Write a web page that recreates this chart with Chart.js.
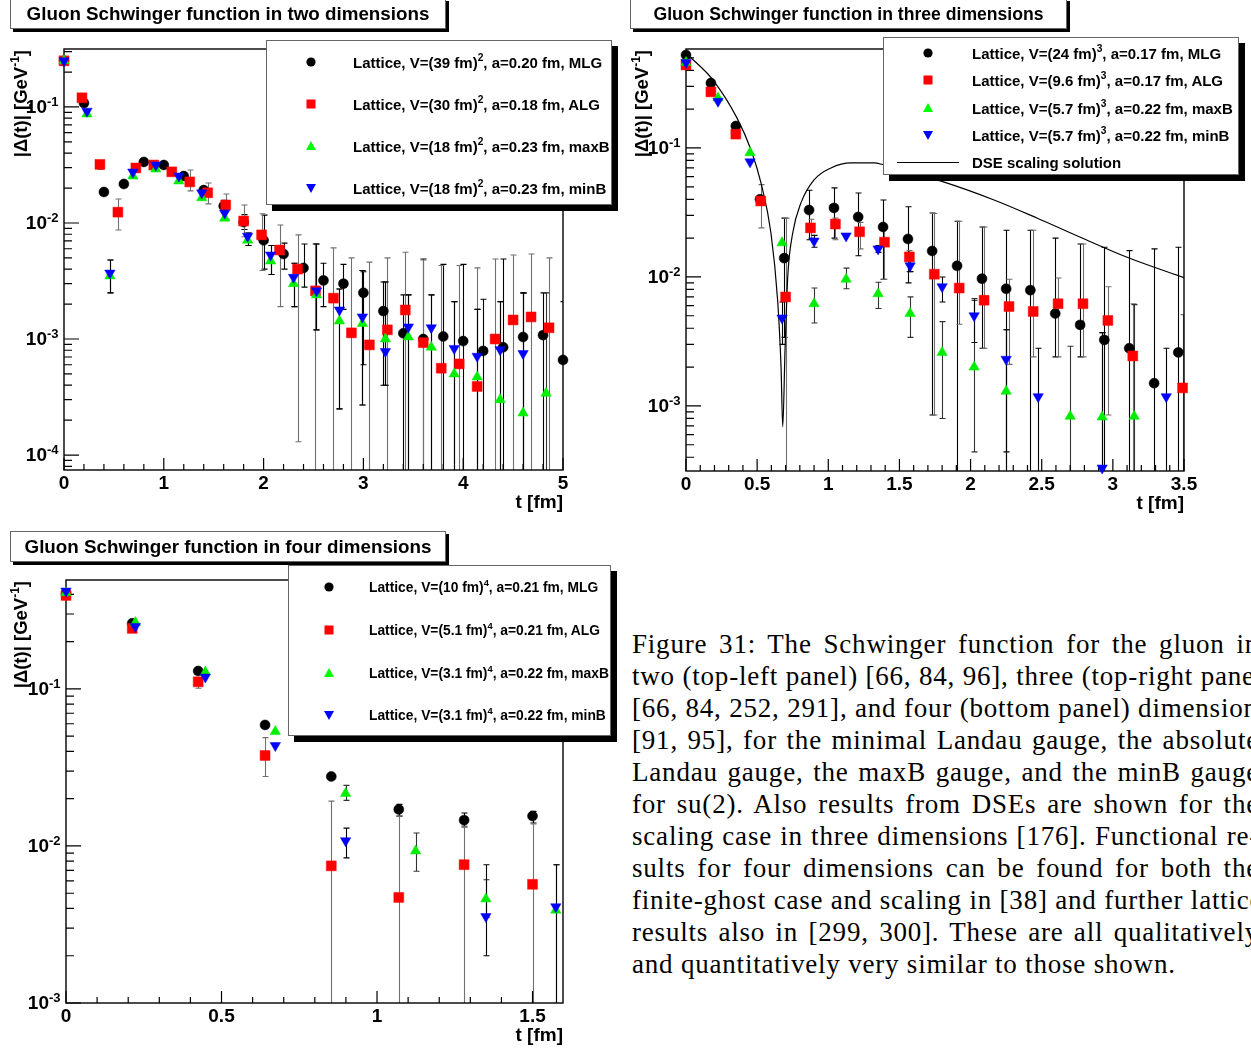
<!DOCTYPE html>
<html>
<head>
<meta charset="utf-8">
<script src="https://cdn.jsdelivr.net/npm/chart.js@4.4.1/dist/chart.umd.min.js"></script>
<style>
  html, body { margin: 0; padding: 0; background: #fff; }
  body { position: relative; width: 1251px; height: 1050px; overflow: hidden; }
  canvas { position: absolute; }
  .title { position: absolute; background: #fff; border: 1px solid #666; box-shadow: 3px 3px 0 #000;
           box-sizing: border-box; font-family: "Liberation Sans", Arial, sans-serif; font-weight: bold;
           text-align: center; white-space: nowrap; color: #000; }
  .legend { position: absolute; background: #fff; border: 1px solid #666; box-shadow: 6px 6px 0 #000; box-sizing: border-box; }
  .lg { position: absolute; font-family: "Liberation Sans", Arial, sans-serif; font-weight: bold; white-space: nowrap;
        transform: translateY(-50%); color: #000; }
  .lg sup { font-size: 68%; vertical-align: 0.6em; line-height: 0; }
  .mk { position: absolute; width: 14px; height: 14px; }
  .dse { position: absolute; height: 0; border-top: 1px solid #000; }
  #caption { position: absolute; left: 632px; top: 628px; width: 627px;
             font-family: "Liberation Serif", "Times New Roman", serif; font-size: 27px; line-height: 32px;
             letter-spacing: 0.8px; color: #000; }
  #caption div { text-align: justify; text-align-last: justify; height: 32px; white-space: nowrap; }
  #caption div.last { text-align: left; text-align-last: left; }
</style>
</head>
<body>

<canvas id="c2d" width="620" height="525" style="left:0;top:0"></canvas>
<canvas id="c3d" width="631" height="525" style="left:620px;top:0"></canvas>
<canvas id="c4d" width="620" height="525" style="left:0;top:525px"></canvas>

<div class="title" style="left:10px;top:-2px;width:436px;height:31px;line-height:30px;font-size:18.8px">Gluon Schwinger function in two dimensions</div>
<div class="title" style="left:630px;top:-2px;width:437px;height:31px;line-height:31px;font-size:17.6px">Gluon Schwinger function in three dimensions</div>
<div class="title" style="left:10px;top:531px;width:436px;height:31px;line-height:29px;font-size:18.8px">Gluon Schwinger function in four dimensions</div>

<!-- legend, two dimensions -->
<div class="legend" style="left:266px;top:40px;width:346px;height:165px">
  <svg class="mk" style="left:37px;top:14px"><circle cx="7" cy="7" r="4.6" fill="#000"/></svg>
  <svg class="mk" style="left:37px;top:56px"><rect x="2.5" y="2.5" width="9" height="9" fill="#f00"/></svg>
  <svg class="mk" style="left:37px;top:98px"><polygon points="7,2 12,11 2,11" fill="#0f0"/></svg>
  <svg class="mk" style="left:37px;top:140px"><polygon points="2,3 12,3 7,12" fill="#00f"/></svg>
  <div class="lg" style="left:86px;top:21px;font-size:15px">Lattice, V=(39 fm)<sup>2</sup>, a=0.20 fm, MLG</div>
  <div class="lg" style="left:86px;top:63px;font-size:15px">Lattice, V=(30 fm)<sup>2</sup>, a=0.18 fm, ALG</div>
  <div class="lg" style="left:86px;top:105px;font-size:15px">Lattice, V=(18 fm)<sup>2</sup>, a=0.23 fm, maxB</div>
  <div class="lg" style="left:86px;top:147px;font-size:15px">Lattice, V=(18 fm)<sup>2</sup>, a=0.23 fm, minB</div>
</div>

<!-- legend, three dimensions -->
<div class="legend" style="left:883px;top:37px;width:356px;height:138px">
  <svg class="mk" style="left:37px;top:8px"><circle cx="7" cy="7" r="4.6" fill="#000"/></svg>
  <svg class="mk" style="left:37px;top:35px"><rect x="2.5" y="2.5" width="9" height="9" fill="#f00"/></svg>
  <svg class="mk" style="left:37px;top:63px"><polygon points="7,2 12,11 2,11" fill="#0f0"/></svg>
  <svg class="mk" style="left:37px;top:90px"><polygon points="2,3 12,3 7,12" fill="#00f"/></svg>
  <div class="dse" style="left:13px;top:124px;width:62px"></div>
  <div class="lg" style="left:88px;top:15px;font-size:15px">Lattice, V=(24 fm)<sup>3</sup>, a=0.17 fm, MLG</div>
  <div class="lg" style="left:88px;top:42px;font-size:15px">Lattice, V=(9.6 fm)<sup>3</sup>, a=0.17 fm, ALG</div>
  <div class="lg" style="left:88px;top:70px;font-size:15px">Lattice, V=(5.7 fm)<sup>3</sup>, a=0.22 fm, maxB</div>
  <div class="lg" style="left:88px;top:97px;font-size:15px">Lattice, V=(5.7 fm)<sup>3</sup>, a=0.22 fm, minB</div>
  <div class="lg" style="left:88px;top:124px;font-size:15px">DSE scaling solution</div>
</div>

<!-- legend, four dimensions -->
<div class="legend" style="left:288px;top:565px;width:323px;height:171px">
  <svg class="mk" style="left:33px;top:14px"><circle cx="7" cy="7" r="4.6" fill="#000"/></svg>
  <svg class="mk" style="left:33px;top:57px"><rect x="2.5" y="2.5" width="9" height="9" fill="#f00"/></svg>
  <svg class="mk" style="left:33px;top:100px"><polygon points="7,2 12,11 2,11" fill="#0f0"/></svg>
  <svg class="mk" style="left:33px;top:142px"><polygon points="2,3 12,3 7,12" fill="#00f"/></svg>
  <div class="lg" style="left:80px;top:21px;font-size:13.8px">Lattice, V=(10 fm)<sup>4</sup>, a=0.21 fm, MLG</div>
  <div class="lg" style="left:80px;top:64px;font-size:13.8px">Lattice, V=(5.1 fm)<sup>4</sup>, a=0.21 fm, ALG</div>
  <div class="lg" style="left:80px;top:107px;font-size:13.8px">Lattice, V=(3.1 fm)<sup>4</sup>, a=0.22 fm, maxB</div>
  <div class="lg" style="left:80px;top:149px;font-size:13.8px">Lattice, V=(3.1 fm)<sup>4</sup>, a=0.22 fm, minB</div>
</div>

<div id="caption">
  <div>Figure 31: The Schwinger function for the gluon in</div>
  <div>two (top-left panel) [66, 84, 96], three (top-right panel)</div>
  <div>[66, 84, 252, 291], and four (bottom panel) dimensions</div>
  <div>[91, 95], for the minimal Landau gauge, the absolute</div>
  <div>Landau gauge, the maxB gauge, and the minB gauge</div>
  <div>for su(2). Also results from DSEs are shown for the</div>
  <div>scaling case in three dimensions [176]. Functional re-</div>
  <div>sults for four dimensions can be found for both the</div>
  <div>finite-ghost case and scaling in [38] and further lattice</div>
  <div>results also in [299, 300]. These are all qualitatively</div>
  <div class="last">and quantitatively very similar to those shown.</div>
</div>

<script>
// error bar that runs off the bottom of the frame
const F = 1e-6;

// ---- two dimensions ----
const t2MLG = [0, 0.2, 0.4, 0.6, 0.8, 1.0, 1.2, 1.4, 1.6, 1.8, 2.0, 2.2, 2.4, 2.6, 2.8, 3.0, 3.2, 3.4, 3.6, 3.8, 4.0, 4.2, 4.4, 4.6, 4.8, 5.0];
const v2MLG = [0.25, 0.108, 0.0185, 0.0217, 0.0336, 0.0316, 0.0254, 0.0192, 0.014, 0.0102, 0.0071, 0.0054, 0.0041, 0.0032, 0.0030, 0.0025, 0.00174, 0.00112, 0.0010, 0.00105, 0.00096, 0.00079, 0.00085, 0.00104, 0.00108, 0.00066];
const lo2MLG = [null, null, null, null, null, null, null, null, 0.0125, 0.0088, 0.004, 0.004, 0.0028, 0.0019, 0.0018, 0.0006, 0.0004, F, F, F, F, F, F, F, F, F];
const hi2MLG = [null, null, null, null, null, null, null, null, 0.0157, 0.0118, 0.0117, 0.0067, 0.0066, 0.0045, 0.0044, 0.0038, 0.0031, 0.0024, 0.0049, 0.0044, 0.0044, 0.0022, 0.0049, 0.0025, 0.0025, 0.0021];

const t2ALG = [0, 0.18, 0.36, 0.54, 0.72, 0.90, 1.08, 1.26, 1.44, 1.62, 1.80, 1.98, 2.16, 2.34, 2.52, 2.70, 2.88, 3.06, 3.24, 3.42, 3.60, 3.78, 3.96, 4.14, 4.32, 4.50, 4.68, 4.86];
const v2ALG = [0.25, 0.12, 0.032, 0.0124, 0.0298, 0.0316, 0.0276, 0.0226, 0.0182, 0.0143, 0.0104, 0.0079, 0.00585, 0.0040, 0.0026, 0.00225, 0.00113, 0.00089, 0.0012, 0.00178, 0.00093, 0.00056, 0.00061, 0.00039, 0.0010, 0.00146, 0.00155, 0.00125];
const lo2ALG = [null, null, 0.029, 0.0087, null, null, null, 0.0189, 0.0146, 0.0108, 0.0076, 0.0039, 0.0019, 0.00013, F, F, F, F, F, F, F, F, F, F, F, F, F, F];
const hi2ALG = [null, null, 0.0345, 0.0161, null, null, null, 0.0286, 0.0221, 0.0178, 0.0143, 0.0120, 0.0096, 0.0079, 0.0066, 0.0061, 0.0050, 0.0046, 0.0050, 0.0056, 0.0048, 0.0043, 0.0043, 0.0041, 0.0049, 0.0053, 0.0054, 0.0050];

const t2B = [0, 0.23, 0.46, 0.69, 0.92, 1.15, 1.38, 1.61, 1.84, 2.07, 2.30, 2.53, 2.76, 2.99, 3.22, 3.45, 3.68, 3.91, 4.14, 4.37, 4.60, 4.83];
const v2MaxB = [0.25, 0.087, 0.0035, 0.0254, 0.0292, 0.023, 0.0165, 0.011, 0.0071, 0.0047, 0.0030, 0.0024, 0.00143, 0.00136, 0.0010, 0.00104, 0.00085, 0.0005, 0.00047, 0.0003, 0.00023, 0.00034];
const v2MinB = [0.25, 0.092, 0.0037, 0.0275, 0.0316, 0.0254, 0.0182, 0.0122, 0.0077, 0.0053, 0.0034, 0.0026, 0.00178, 0.00155, 0.00078, 0.00127, 0.00125, 0.00083, 0.00071, 0.00081, 0.00075, null];
const lo2B = [null, null, 0.0025, null, null, null, null, null, 0.0064, 0.0036, 0.0019, 0.0012, 0.00025, 0.00027, 0.0004, F, F, F, F, F, F, F];
const hi2B = [null, null, 0.0048, null, null, null, null, null, 0.0082, 0.0064, 0.0045, 0.0066, 0.0027, 0.0039, 0.0031, 0.0024, 0.0024, 0.0021, 0.0018, 0.0021, 0.0025, 0.0025];

// ---- three dimensions ----
const t3MLG = [0, 0.175, 0.35, 0.52, 0.69, 0.865, 1.04, 1.21, 1.385, 1.56, 1.73, 1.905, 2.08, 2.25, 2.42, 2.595, 2.77, 2.94, 3.115, 3.29, 3.46];
const v3MLG = [0.526, 0.319, 0.148, 0.040, 0.014, 0.033, 0.0343, 0.0292, 0.0244, 0.0197, 0.0159, 0.0122, 0.0097, 0.0081, 0.0079, 0.0052, 0.00425, 0.00325, 0.0028, 0.0015, 0.0026];
const lo3MLG = [null, null, null, null, 0.0034, 0.0194, 0.020, 0.0146, 0.0096, 0.009, 0.00085, F, 0.0028, 0.00044, F, 0.0024, 0.0024, F, F, F, F];
const hi3MLG = [null, null, null, null, 0.0286, 0.047, 0.049, 0.0448, 0.0395, 0.035, 0.0313, 0.027, 0.0244, 0.023, 0.023, 0.020, 0.018, 0.017, 0.016, 0.0165, 0.017];

const t3ALG = [0, 0.175, 0.35, 0.525, 0.70, 0.875, 1.05, 1.22, 1.395, 1.57, 1.745, 1.92, 2.095, 2.27, 2.44, 2.615, 2.79, 2.965, 3.14, 3.49];
const v3ALG = [0.44, 0.272, 0.128, 0.0388, 0.007, 0.024, 0.0257, 0.0224, 0.0186, 0.0143, 0.0105, 0.0082, 0.0066, 0.0059, 0.0054, 0.0062, 0.0062, 0.0046, 0.00244, 0.00138];
const lo3ALG = [null, null, null, 0.024, F, 0.020, 0.0194, 0.0165, 0.0096, 0.011, 0.00085, 0.0043, 0.0028, 0.0021, 0.0024, 0.0024, 0.0024, 0.00085, F, F];
const hi3ALG = [null, null, null, 0.052, 0.0286, 0.028, 0.0286, 0.0265, 0.0244, 0.016, 0.031, 0.027, 0.0244, 0.0096, 0.023, 0.0098, 0.018, 0.0084, 0.0062, 0.0051];

const t3MaxB = [0, 0.225, 0.45, 0.675, 0.90, 1.125, 1.35, 1.575, 1.80, 2.025, 2.25, 2.70, 2.925, 3.15];
const v3MaxB = [0.46, 0.244, 0.092, 0.0184, 0.0062, 0.0096, 0.0074, 0.0052, 0.0026, 0.002, 0.0013, 0.00083, 0.00082, 0.00083];
const lo3MaxB = [null, null, null, null, 0.0044, 0.0081, 0.0057, 0.0034, 0.0008, 0.00044, F, F, F, F];
const hi3MaxB = [null, null, null, null, 0.0082, 0.0117, 0.0091, 0.007, 0.0045, 0.0068, 0.0039, 0.0029, 0.0037, 0.0061];

const t3MinB = [0, 0.225, 0.45, 0.675, 0.90, 1.125, 1.35, 1.575, 1.80, 2.025, 2.25, 2.475, 2.925, 3.375];
const v3MinB = [0.46, 0.23, 0.078, 0.0048, 0.019, 0.0208, 0.0165, 0.0122, 0.0084, 0.005, 0.0023, 0.00118, 0.00033, 0.00118];
const lo3MinB = [null, null, null, 0.003, 0.017, null, 0.0155, 0.011, 0.0064, 0.0031, F, F, F, F];
const hi3MinB = [null, null, null, 0.0064, 0.021, null, 0.0175, 0.0135, 0.01, 0.0066, 0.0039, 0.0028, 0.0037, 0.0028];

// DSE scaling solution
const tDSE = [0.014, 0.19, 0.358, 0.457, 0.527, 0.597, 0.644, 0.668, 0.68, 0.696, 0.715, 0.75, 0.808, 0.9, 1.019, 1.16, 1.32, 1.39, 1.804, 2.165, 2.47, 2.776, 3.1, 3.507];
const vDSE = [0.526, 0.336, 0.171, 0.0965, 0.0536, 0.0219, 0.0066, 0.002, 0.00069, 0.0027, 0.01, 0.0219, 0.0375, 0.0565, 0.07, 0.0766, 0.0766, 0.074, 0.0548, 0.0395, 0.0285, 0.0202, 0.0142, 0.0098];

// ---- four dimensions ----
const t4A = [0, 0.213, 0.425, 0.64, 0.853, 1.07, 1.28, 1.50];
const v4MLG = [0.405, 0.262, 0.13, 0.059, 0.0277, 0.0171, 0.0146, 0.0155];
const lo4MLG = [null, null, null, null, null, 0.0155, 0.0132, 0.0140];
const hi4MLG = [null, null, null, null, null, 0.0184, 0.0162, 0.0166];
const v4ALG = [0.394, 0.243, 0.111, 0.0377, 0.00747, 0.0047, 0.0076, 0.0057];
const lo4ALG = [null, null, 0.101, 0.0277, F, F, F, F];
const hi4ALG = [null, null, 0.114, 0.049, 0.0193, 0.0155, 0.0134, 0.0138];

const t4B = [0, 0.223, 0.448, 0.673, 0.899, 1.124, 1.35, 1.575];
const v4MaxB = [0.41, 0.265, 0.128, 0.0535, 0.0216, 0.0093, 0.0046, 0.0039];
const lo4MaxB = [null, null, null, null, 0.0195, 0.0069, 0.0035, F];
const hi4MaxB = [null, null, null, null, 0.0243, 0.0121, 0.0061, 0.0076];
const v4MinB = [0.42, 0.25, 0.119, 0.0436, 0.0108, null, 0.00355, 0.0041];
const lo4MinB = [null, null, null, null, 0.0084, null, 0.0020, F];
const hi4MinB = [null, null, null, null, 0.013, null, 0.0076, 0.0076];

// marker look per gauge (ROOT style)
const STYLE = {
  MLG:  { shape: 'circle',   rot: 0,   r: 5, color: '#000000', err: '#000000', order: 3 },
  ALG:  { shape: 'rect',     rot: 0,   r: 7, color: '#ff0000', err: '#707070', order: 2 },
  maxB: { shape: 'triangle', rot: 0,   r: 6, color: '#00ee00', err: '#333333', order: 1 },
  minB: { shape: 'triangle', rot: 180, r: 6, color: '#0000ff', err: '#000000', order: 0 }
};

const FONT = '"Liberation Sans", Arial, sans-serif';

function marks(kind, t, v, lo, hi) {
  const s = STYLE[kind];
  return {
    label: kind,
    data: t.map((tt, i) => ({ x: tt, y: v[i] })),
    errLo: lo, errHi: hi, errColor: s.err,
    pointStyle: s.shape, pointRotation: s.rot, pointRadius: s.r,
    pointBackgroundColor: s.color, pointBorderColor: s.color, pointBorderWidth: 0.5,
    showLine: false, clip: false, order: s.order
  };
}

// frame, inward ticks, error bars and labels drawn the ROOT way
const rootAxes = {
  id: 'rootAxes',
  beforeDatasetsDraw(chart, args, o) {
    const { ctx, chartArea: a } = chart;
    const x = chart.scales.x, y = chart.scales.y;

    // error bars, clipped to the frame
    ctx.save();
    ctx.beginPath();
    ctx.rect(a.left, a.top, a.right - a.left, a.bottom - a.top);
    ctx.clip();
    ctx.lineWidth = 1.1;
    chart.data.datasets.forEach(ds => {
      if (!ds.errLo) return;
      ctx.strokeStyle = ds.errColor;
      ds.data.forEach((p, i) => {
        const lo = ds.errLo[i], hi = ds.errHi[i];
        if (p.y == null || lo == null || hi == null) return;
        const px = Math.round(x.getPixelForValue(p.x)) + 0.5;
        const yl = y.getPixelForValue(lo), yh = y.getPixelForValue(hi);
        ctx.beginPath();
        ctx.moveTo(px, yl); ctx.lineTo(px, yh);
        ctx.moveTo(px - 3, yh); ctx.lineTo(px + 3, yh);
        ctx.moveTo(px - 3, yl); ctx.lineTo(px + 3, yl);
        ctx.stroke();
      });
    });
    ctx.restore();

    // frame
    ctx.save();
    ctx.strokeStyle = '#000';
    ctx.lineWidth = 1.4;
    ctx.strokeRect(a.left, a.top, a.right - a.left, a.bottom - a.top);

    // ticks pointing into the frame
    ctx.lineWidth = 1.2;
    ctx.beginPath();
    const nMinor = Math.round(x.max / o.xMinor);
    for (let k = 0; k <= nMinor; k++) {
      const v = k * o.xMinor;
      if (v > x.max + 1e-9) break;
      const major = Math.abs(v / o.xMajor - Math.round(v / o.xMajor)) < 1e-6;
      const px = x.getPixelForValue(v);
      ctx.moveTo(px, a.bottom);
      ctx.lineTo(px, a.bottom - (major ? 12 : 6));
    }
    o.yDecades.forEach(d => {
      for (let m = 1; m <= 9; m++) {
        const v = m * Math.pow(10, d);
        if (v < y.min || v > y.max) continue;
        const py = y.getPixelForValue(v);
        ctx.moveTo(a.left, py);
        ctx.lineTo(a.left + (m === 1 ? 15 : 8), py);
      }
    });
    ctx.stroke();
    ctx.restore();
  },
  afterDraw(chart, args, o) {
    const { ctx, chartArea: a } = chart;
    const x = chart.scales.x, y = chart.scales.y;
    ctx.save();
    ctx.fillStyle = '#000';

    // x tick labels
    ctx.font = 'bold 19px ' + FONT;
    ctx.textAlign = 'center';
    ctx.textBaseline = 'middle';
    o.xLabels.forEach(v => ctx.fillText(String(v), x.getPixelForValue(v), a.bottom + 14));

    // y tick labels 10^n
    o.yDecades.forEach(d => {
      const v = Math.pow(10, d);
      if (v < y.min || v > y.max) return;
      const py = y.getPixelForValue(v);
      ctx.font = 'bold 19px ' + FONT;
      ctx.textAlign = 'right';
      ctx.fillText('10', a.left - 17, py + 1);
      ctx.font = 'bold 13px ' + FONT;
      ctx.textAlign = 'left';
      ctx.fillText(String(d), a.left - 17, py - 5);
    });

    // x title
    ctx.font = 'bold 19px ' + FONT;
    ctx.textAlign = 'right';
    ctx.fillText('t [fm]', a.right, a.bottom + 33);

    // y title, ending at the top of the axis
    ctx.translate(o.yTitleX, a.top + 1);
    ctx.rotate(-Math.PI / 2);
    ctx.textAlign = 'left';
    ctx.textBaseline = 'alphabetic';
    const main = '|\u0394(t)| [GeV';
    ctx.font = 'bold 18.5px ' + FONT;
    const w1 = ctx.measureText(main).width;
    const w3 = ctx.measureText(']').width;
    ctx.font = 'bold 12px ' + FONT;
    const w2 = ctx.measureText('-1').width;
    const x0 = -(w1 + w2 + w3);
    ctx.font = 'bold 18.5px ' + FONT;
    ctx.fillText(main, x0, 0);
    ctx.fillText(']', x0 + w1 + w2, 0);
    ctx.font = 'bold 12px ' + FONT;
    ctx.fillText('-1', x0 + w1, -8);
    ctx.restore();
  }
};

function panel(id, pad, xmax, ymin, ymax, datasets, axes) {
  return new Chart(document.getElementById(id), {
    type: 'scatter',
    data: { datasets },
    options: {
      responsive: false,
      animation: false,
      events: [],
      devicePixelRatio: 1,
      layout: { padding: pad },
      scales: {
        x: { type: 'linear', min: 0, max: xmax, bounds: 'data', display: false },
        y: { type: 'logarithmic', min: ymin, max: ymax, bounds: 'data', display: false }
      },
      plugins: { legend: { display: false }, tooltip: { enabled: false }, rootAxes: axes }
    },
    plugins: [rootAxes]
  });
}

panel('c2d', { left: 64, top: 49, right: 57, bottom: 55 }, 5, 7.43e-5, 0.316, [
  marks('MLG', t2MLG, v2MLG, lo2MLG, hi2MLG),
  marks('ALG', t2ALG, v2ALG, lo2ALG, hi2ALG),
  marks('maxB', t2B, v2MaxB, lo2B, hi2B),
  marks('minB', t2B, v2MinB, lo2B, hi2B)
], { xMajor: 1, xMinor: 0.2, xLabels: [0, 1, 2, 3, 4, 5], yDecades: [-5, -4, -3, -2, -1, 0], yTitleX: 27 });

panel('c3d', { left: 66, top: 49, right: 67, bottom: 54 }, 3.5, 3.13e-4, 0.585, [
  marks('MLG', t3MLG, v3MLG, lo3MLG, hi3MLG),
  marks('ALG', t3ALG, v3ALG, lo3ALG, hi3ALG),
  marks('maxB', t3MaxB, v3MaxB, lo3MaxB, hi3MaxB),
  marks('minB', t3MinB, v3MinB, lo3MinB, hi3MinB),
  {
    label: 'DSE', type: 'line', data: tDSE.map((t, i) => ({ x: t, y: vDSE[i] })),
    showLine: true, borderColor: '#000', borderWidth: 1.2, pointRadius: 0,
    cubicInterpolationMode: 'monotone', fill: false, order: 4
  }
], { xMajor: 0.5, xMinor: 0.1, xLabels: [0, 0.5, 1, 1.5, 2, 2.5, 3, 3.5], yDecades: [-4, -3, -2, -1, 0], yTitleX: 28 });

panel('c4d', { left: 66, top: 55, right: 57, bottom: 47 }, 1.598, 1e-3, 0.494, [
  marks('MLG', t4A, v4MLG, lo4MLG, hi4MLG),
  marks('ALG', t4A, v4ALG, lo4ALG, hi4ALG),
  marks('maxB', t4B, v4MaxB, lo4MaxB, hi4MaxB),
  marks('minB', t4B, v4MinB, lo4MinB, hi4MinB)
], { xMajor: 0.5, xMinor: 0.1, xLabels: [0, 0.5, 1, 1.5], yDecades: [-3, -2, -1, 0], yTitleX: 27 });
</script>
</body>
</html>
